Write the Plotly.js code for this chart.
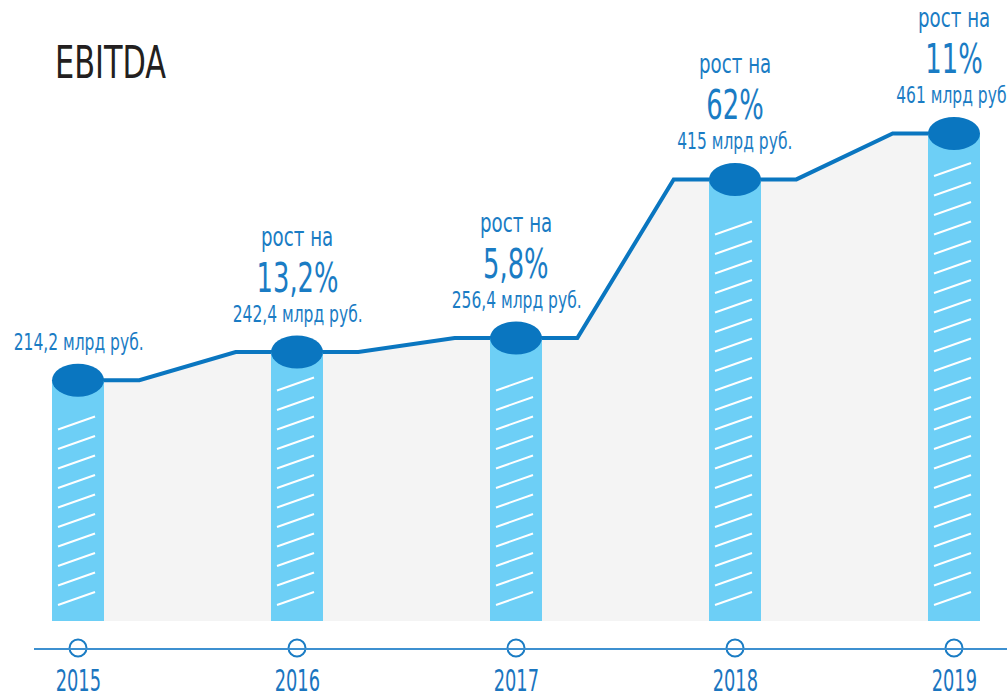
<!DOCTYPE html>
<html><head><meta charset="utf-8">
<script src="https://cdn.plot.ly/plotly-3.0.1.min.js"></script>
<style>html,body{margin:0;padding:0;background:#fff}#chart{width:1007px;height:700px}</style>
</head><body><div id="chart"></div>
<script>
// ---- data ----
const years = [2015, 2016, 2017, 2018, 2019];
const yearLabels = ["2015", "2016", "2017", "2018", "2019"];
const ebitda = [214.2, 242.4, 256.4, 415, 461];
const valueLabels = ["214,2 млрд руб.", "242,4 млрд руб.", "256,4 млрд руб.", "415 млрд руб.", "461 млрд руб."];
const growthLabels = [null, "13,2%", "5,8%", "62%", "11%"];
const growthCaption = "рост на";
const chartTitle = "EBITDA";

// ---- styling / geometry ----
const FONT = '"DejaVu Sans Condensed", "Liberation Sans Narrow", "Roboto", sans-serif';
const BLUE = '#0a76c0';
const TEXTBLUE = '#1a7cc4';
const LIGHT = '#6dcff6';
const GREY = '#f4f4f4';

const W = 1007, H = 700;
const mL = 34, mB = 52;
const plotW = W - mL, plotH = H - mB;
const xRange = [2014.799, 2019.242];
const yRange = [-53.6, 594.4];
const pxX = (xRange[1] - xRange[0]) / plotW;
const pxY = (yRange[1] - yRange[0]) / plotH;
const barBase = yRange[1] - 621 * pxY;
const barWidthPx = 52;
const flat = 0.28;

// line with flat shoulders
const lx = [], ly = [];
years.forEach((yr, i) => {
  if (i > 0) { lx.push(yr - flat); ly.push(ebitda[i]); }
  lx.push(yr); ly.push(ebitda[i]);
  if (i < years.length - 1) { lx.push(yr + flat); ly.push(ebitda[i]); }
});
// closed area under the line
const ax = lx.concat([years[years.length - 1], years[0]]);
const ay = ly.concat([barBase, barBase]);

// hatch segments inside the bars
const hx = [], hy = [];
years.forEach((yr, i) => {
  let c = barBase + 22.5 * pxY;
  while (c <= ebitda[i] - 32 * pxY) {
    hx.push(yr - 20 * pxX, yr + 17 * pxX, null);
    hy.push(c - 6.5 * pxY, c + 6.5 * pxY, null);
    c += 19.5 * pxY;
  }
});

const traces = [
  { x: ax, y: ay, mode: 'none', type: 'scatter', fill: 'toself', fillcolor: GREY,
    hoverinfo: 'skip', showlegend: false },
  { x: lx, y: ly, mode: 'lines', type: 'scatter',
    line: { color: BLUE, width: 4 }, hoverinfo: 'skip', showlegend: false },
  { x: years, y: years.map(() => yRange[0]), mode: 'markers', type: 'scatter', cliponaxis: false,
    marker: { size: 17, color: '#fff', line: { color: '#1a7cc4', width: 2 } }, hoverinfo: 'skip', showlegend: false },
  { x: years, y: ebitda.map(v => v - barBase), base: barBase, type: 'bar', xaxis: 'x2', yaxis: 'y2',
    width: barWidthPx * pxX, marker: { color: LIGHT, line: { width: 0 } }, hoverinfo: 'skip', showlegend: false },
  { x: hx, y: hy, mode: 'lines', type: 'scatter', xaxis: 'x2', yaxis: 'y2',
    line: { color: '#ffffff', width: 2 }, hoverinfo: 'skip', showlegend: false }
];

const shapes = years.map((yr, i) => ({
  type: 'circle', xref: 'x2', yref: 'y2', xsizemode: 'pixel', ysizemode: 'pixel',
  xanchor: yr, yanchor: ebitda[i], x0: -26, x1: 26, y0: -16.5, y1: 16.5,
  fillcolor: BLUE, line: { width: 0 }, layer: 'above'
}));

const annotations = [];
const squeeze = [];
years.forEach((yr, i) => {
  annotations.push({ x: yr, y: ebitda[i], xref: 'x2', yref: 'y2', text: valueLabels[i], showarrow: false,
    yshift: 38, yanchor: 'middle', xanchor: 'center', font: { family: FONT, size: 23, color: TEXTBLUE } });
  squeeze.push(0.75);
  if (growthLabels[i]) {
    annotations.push({ x: yr, y: ebitda[i], xref: 'x2', yref: 'y2', text: growthLabels[i], showarrow: false,
      yshift: 74, yanchor: 'middle', xanchor: 'center', font: { family: FONT, size: 41, color: TEXTBLUE } });
    squeeze.push(0.7);
    annotations.push({ x: yr, y: ebitda[i], xref: 'x2', yref: 'y2', text: growthCaption, showarrow: false,
      yshift: 116, yanchor: 'middle', xanchor: 'center', font: { family: FONT, size: 27, color: TEXTBLUE } });
    squeeze.push(0.75);
  }
});
years.forEach((yr, i) => {
  annotations.push({ x: yr, y: (plotH - 681) / plotH, xref: 'x', yref: 'paper', text: yearLabels[i], showarrow: false,
    yanchor: 'middle', xanchor: 'center', font: { family: FONT, size: 30, color: '#1a75bf' } });
  squeeze.push(0.66);
});

const layout = {
  width: W, height: H,
  margin: { l: mL, r: 0, t: 0, b: mB, pad: 0 },
  paper_bgcolor: '#fff', plot_bgcolor: 'rgba(0,0,0,0)',
  title: { text: chartTitle, x: 55 / W, xanchor: 'left', y: 1 - 62 / H, yanchor: 'middle',
    xref: 'container', yref: 'container', font: { family: FONT, size: 45, color: '#231f20' } },
  xaxis: { range: xRange, showgrid: false, zeroline: false, showline: true, linecolor: '#3d90d0', linewidth: 2,
    showticklabels: false, ticks: '', fixedrange: true },
  yaxis: { range: yRange, visible: false, showgrid: false, zeroline: false, fixedrange: true },
  xaxis2: { range: xRange, overlaying: 'x', visible: false, fixedrange: true },
  yaxis2: { range: yRange, overlaying: 'y', visible: false, fixedrange: true },
  shapes: shapes,
  annotations: annotations,
  showlegend: false,
  bargap: 0
};

Plotly.newPlot('chart', traces, layout, { displayModeBar: false, staticPlot: true }).then(gd => {
  // horizontally condense the text to mimic the narrow typeface of the original
  gd.querySelectorAll('g.annotation').forEach(g => {
    const idx = +g.getAttribute('data-index');
    const t = g.querySelector('text');
    if (!t || isNaN(idx)) return;
    t.style.transformBox = 'fill-box';
    t.style.transformOrigin = 'center';
    t.style.transform = 'scaleX(' + squeeze[idx] + ')';
  });
  const tt = gd.querySelector('.gtitle');
  if (tt) {
    tt.style.transformBox = 'fill-box';
    tt.style.transformOrigin = 'left center';
    tt.style.transform = 'scaleX(0.75)';
  }
});
</script>
</body></html>
